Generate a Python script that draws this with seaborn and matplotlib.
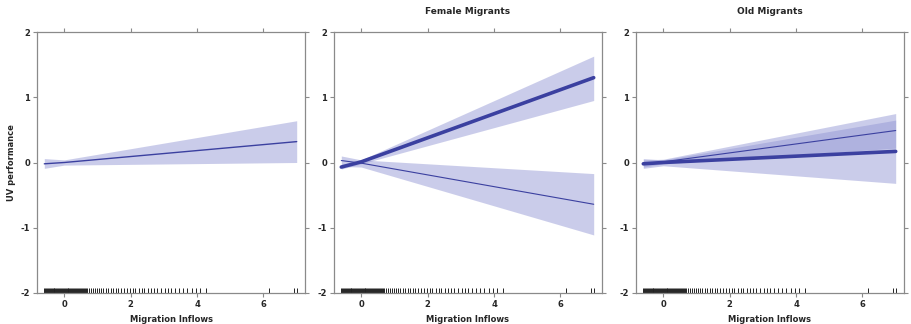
import numpy as np
import pandas as pd
import matplotlib
matplotlib.use("Agg")
import matplotlib.pyplot as plt
import seaborn as sns

# ---- data ----
panel_titles = ["", "Female Migrants", "Old Migrants"]
x_pts = [-0.6, 0.0, 7.0]

# panel 1: single effect
p1_line = [-0.02, 0.0, 0.32]
p1_low = [-0.09, -0.04, 0.0]
p1_high = [0.06, 0.04, 0.64]

# panel 2: thick (increasing) and thin (decreasing)
p2_thick_line = [-0.07, 0.01, 1.30]
p2_thick_low = [-0.10, -0.02, 0.95]
p2_thick_high = [-0.03, 0.04, 1.63]
p2_thin_line = [0.03, -0.01, -0.64]
p2_thin_low = [-0.06, -0.07, -1.11]
p2_thin_high = [0.10, 0.04, -0.17]

# panel 3: thin (upper) and thick (lower)
p3_thin_line = [-0.02, 0.01, 0.49]
p3_thin_low = [-0.07, -0.02, 0.22]
p3_thin_high = [0.04, 0.05, 0.75]
p3_thick_line = [-0.02, 0.0, 0.17]
p3_thick_low = [-0.09, -0.05, -0.32]
p3_thick_high = [0.06, 0.04, 0.65]

rug_x = [-0.60, -0.57, -0.55, -0.52, -0.49, -0.46, -0.44, -0.41, -0.38, -0.35,
         -0.32, -0.30, -0.27, -0.24, -0.21, -0.18, -0.16, -0.13, -0.10, -0.07,
         -0.04, -0.02, 0.01, 0.04, 0.07, 0.10, 0.12, 0.15, 0.18, 0.21,
         0.24, 0.27, 0.30, 0.33, 0.36, 0.39, 0.42, 0.45, 0.48, 0.51,
         0.54, 0.57, 0.60, 0.63, 0.66, 0.70, 0.74, 0.82, 0.86, 0.93,
         0.98, 1.05, 1.12, 1.18, 1.26, 1.33, 1.41, 1.47, 1.55, 1.62,
         1.71, 1.80, 1.88, 1.97, 2.06, 2.14, 2.25, 2.33, 2.41, 2.52,
         2.60, 2.71, 2.80, 2.91, 3.02, 3.13, 3.22, 3.35, 3.46, 3.58,
         3.70, 3.85, 3.97, 4.10, 4.28, 6.18, 6.92, 7.02]

xlim = (-0.82, 7.25)
ylim = (-2, 2)
xticks = [0, 2, 4, 6]
yticks = [-2, -1, 0, 1, 2]

line_col = "#3b40a0"
band_col = "#9296d4"
spine_col = "#8a8a8a"

sns.set_theme(style="white")
plt.rcParams["font.family"] = ["DejaVu Sans"]
plt.rcParams["axes.unicode_minus"] = False

fig = plt.figure(figsize=(9.12, 3.24), dpi=100)
lefts = [37, 334, 636]
width = 268
bottom_px, top_px = 293, 32
axes = []
for l in lefts:
    ax = fig.add_axes([l / 912, 1 - bottom_px / 324, width / 912, (bottom_px - top_px) / 324])
    axes.append(ax)


def draw_band(ax, low, high):
    ax.fill_between(x_pts, low, high, color=band_col, alpha=0.48, linewidth=0, zorder=1)


def draw_line(ax, y, lw):
    df = pd.DataFrame({"x": x_pts, "y": y})
    sns.lineplot(data=df, x="x", y="y", ax=ax, color=line_col, linewidth=lw,
                 estimator=None, sort=False, zorder=3)


# panel 1
draw_band(axes[0], p1_low, p1_high)
draw_line(axes[0], p1_line, 1.0)
# panel 2
draw_band(axes[1], p2_thick_low, p2_thick_high)
draw_band(axes[1], p2_thin_low, p2_thin_high)
draw_line(axes[1], p2_thick_line, 2.6)
draw_line(axes[1], p2_thin_line, 0.8)
# panel 3
draw_band(axes[2], p3_thick_low, p3_thick_high)
draw_band(axes[2], p3_thin_low, p3_thin_high)
draw_line(axes[2], p3_thin_line, 0.8)
draw_line(axes[2], p3_thick_line, 2.6)

rug_df = pd.DataFrame({"x": rug_x})
for i, ax in enumerate(axes):
    sns.rugplot(data=rug_df, x="x", ax=ax, height=0.018, color="#222222",
                linewidth=0.7, clip_on=False)
    ax.set_xlim(*xlim)
    ax.set_ylim(*ylim)
    ax.set_xticks(xticks)
    ax.set_yticks(yticks)
    ax.tick_params(axis="both", which="both", direction="out", length=3,
                   width=0.8, color=spine_col, labelsize=6, pad=2,
                   top=True, right=True, bottom=True, left=True,
                   labeltop=False, labelright=False)
    for lab in ax.get_xticklabels() + ax.get_yticklabels():
        lab.set_fontweight("bold")
    for s in ax.spines.values():
        s.set_color(spine_col)
        s.set_linewidth(0.9)
    ax.set_xlabel("Migration Inflows", fontsize=6, fontweight="bold", labelpad=4)
    ax.set_ylabel("")
    if panel_titles[i]:
        ax.set_title(panel_titles[i], fontsize=6.5, fontweight="bold", pad=13)
    ax.grid(False)

axes[0].set_ylabel("UV performance", fontsize=6, fontweight="bold", labelpad=3)

fig.savefig("out.png", dpi=100)
